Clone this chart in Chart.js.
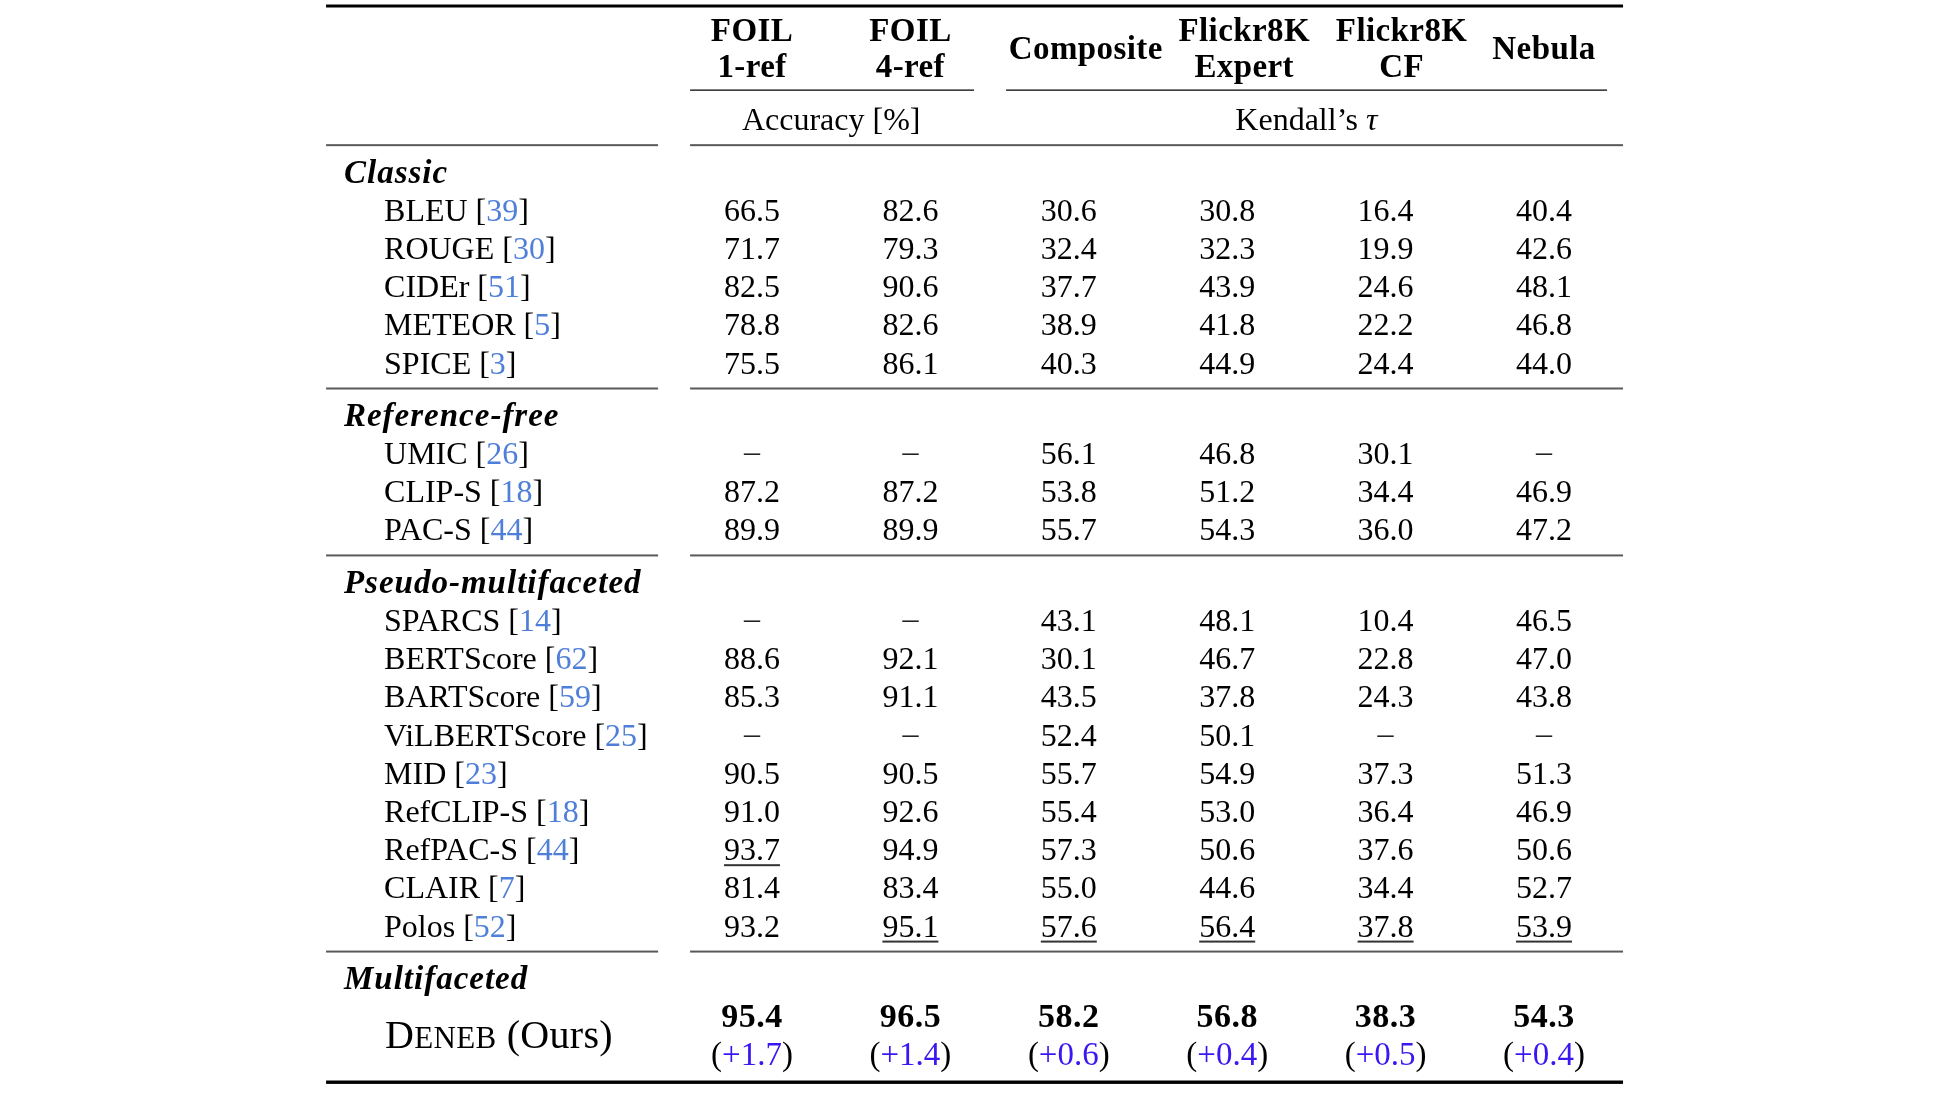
<!DOCTYPE html>
<html>
<head>
<meta charset="utf-8">
<script src="https://cdn.jsdelivr.net/npm/chart.js@4.4.0/dist/chart.umd.min.js"></script>
<style>
	html, body { margin: 0; padding: 0; background: #ffffff; }
	#wrap { width: 1943px; height: 1093px; }
</style>
</head>
<body>
<div id="wrap"><canvas id="scores"></canvas></div>
<script>
//
// Données du tableau.
//
const column_heads = [ [ "FOIL", "1-ref" ], [ "FOIL", "4-ref" ], [ "Composite" ], [ "Flickr8K", "Expert" ], [ "Flickr8K", "CF" ], [ "Nebula" ] ];
const unit_accuracy = "Accuracy [%]";
const unit_kendall = "Kendall’s ";
const unit_tau = "τ";

const group_titles = [ "Classic", "Reference-free", "Pseudo-multifaceted", "Multifaceted" ];

const classic_names = [ "BLEU", "ROUGE", "CIDEr", "METEOR", "SPICE" ];
const classic_refs = [ 39, 30, 51, 5, 3 ];
const free_names = [ "UMIC", "CLIP-S", "PAC-S" ];
const free_refs = [ 26, 18, 44 ];
const pseudo_names = [ "SPARCS", "BERTScore", "BARTScore", "ViLBERTScore", "MID", "RefCLIP-S", "RefPAC-S", "CLAIR", "Polos" ];
const pseudo_refs = [ 14, 62, 59, 25, 23, 18, 44, 7, 52 ];

// Une liste par colonne, dans l'ordre des lignes ci-dessus (null = « – »).
const foil_1ref = [ 66.5, 71.7, 82.5, 78.8, 75.5, null, 87.2, 89.9, null, 88.6, 85.3, null, 90.5, 91.0, 93.7, 81.4, 93.2 ];
const foil_4ref = [ 82.6, 79.3, 90.6, 82.6, 86.1, null, 87.2, 89.9, null, 92.1, 91.1, null, 90.5, 92.6, 94.9, 83.4, 95.1 ];
const composite = [ 30.6, 32.4, 37.7, 38.9, 40.3, 56.1, 53.8, 55.7, 43.1, 30.1, 43.5, 52.4, 55.7, 55.4, 57.3, 55.0, 57.6 ];
const flickr_expert = [ 30.8, 32.3, 43.9, 41.8, 44.9, 46.8, 51.2, 54.3, 48.1, 46.7, 37.8, 50.1, 54.9, 53.0, 50.6, 44.6, 56.4 ];
const flickr_cf = [ 16.4, 19.9, 24.6, 22.2, 24.4, 30.1, 34.4, 36.0, 10.4, 22.8, 24.3, null, 37.3, 36.4, 37.6, 34.4, 37.8 ];
const nebula = [ 40.4, 42.6, 48.1, 46.8, 44.0, null, 46.9, 47.2, 46.5, 47.0, 43.8, null, 51.3, 46.9, 50.6, 52.7, 53.9 ];

const ours_name = "Deneb";
const ours_scores = [ 95.4, 96.5, 58.2, 56.8, 38.3, 54.3 ];
const ours_gains = [ 1.7, 1.4, 0.6, 0.4, 0.5, 0.4 ];

//
// Mise en page : axe Y en « lignes » (38,2 px), axe X en colonnes (158,4 px).
//
const LINE = 38.2;
const COL = 158.4;
const SERIF = "\"Liberation Serif\", \"Times New Roman\", serif";
const BLACK = "#000000";
const CITE = "#4f7fd8";
const GAIN = "#3a16f2";

const column_values = [ foil_1ref, foil_4ref, composite, flickr_expert, flickr_cf, nebula ];
const header_shift = [ 0, 0, 17, 17, 16, 0 ];	// Décalage des titres par rapport aux valeurs (px).

const groups = [
	{ names: classic_names, refs: classic_refs },
	{ names: free_names, refs: free_refs },
	{ names: pseudo_names, refs: pseudo_refs }
];

// Calcul des positions verticales des lignes, titres et filets.
let rows = [];
let titles = [];
let mid_rules = [];
let cursor = 3.80;	// Filet sous les unités.
mid_rules.push( cursor );

groups.forEach( ( group, g ) =>
{
	titles.push( { text: group_titles[ g ], y: cursor + 0.70 } );

	let y = cursor + 1.69;
	group.names.forEach( ( name, i ) =>
	{
		rows.push( { name: name, ref: group.refs[ i ], y: y } );
		y += 1;
	} );

	cursor = y - 1 + 0.68;
	mid_rules.push( cursor );
} );

titles.push( { text: group_titles[ 3 ], y: cursor + 0.70 } );
const ours_y = cursor + 1.67;
const gain_y = ours_y + 1.02;
const bottom_y = gain_y + 0.73;

// Meilleur score hors « Deneb » : souligné dans chaque colonne.
const second_best = column_values.map( values => Math.max( ...values.filter( v => v !== null ) ) );

//
// Jeux de données : une colonne = un jeu de points invisibles placés par les échelles.
//
const datasets = column_values.map( ( values, c ) => (
	{
		label: column_heads[ c ].join( " " ),
		data: rows.map( ( row, i ) => ( { x: c, y: row.y, v: values[ i ] } ) )
			.concat( [ { x: c, y: ours_y, v: ours_scores[ c ], ours: true, gain: ours_gains[ c ] } ] ),
		pointRadius: 0,
		pointHoverRadius: 0
	} ) );

// Libellés des méthodes (colonne de gauche).
datasets.push(
	{
		label: "methods",
		data: rows.map( row => ( { x: -2.323, y: row.y, name: row.name, ref: row.ref } ) )
			.concat( [ { x: -1.597, y: ( ours_y + gain_y ) / 2, name: ours_name, ours: true } ] ),
		pointRadius: 0,
		pointHoverRadius: 0
	} );

// Dessin d'une suite de segments de texte (polices/couleurs différentes).
function draw_runs( ctx, runs, x, y, align, spacing )
{
	ctx.letterSpacing = ( spacing || 0 ) + "px";

	let width = 0;
	runs.forEach( run =>
	{
		ctx.font = run.font;
		width += ctx.measureText( run.text ).width;
	} );

	let start = align === "center" ? x - width / 2 : x;
	ctx.textAlign = "left";
	ctx.textBaseline = "alphabetic";

	runs.forEach( run =>
	{
		ctx.font = run.font;
		ctx.fillStyle = run.color;
		ctx.fillText( run.text, start, y );
		start += ctx.measureText( run.text ).width;
	} );

	ctx.letterSpacing = "0px";
	return { left: align === "center" ? x - width / 2 : x, width: width };
}

function hline( ctx, chart, x0, x1, y, thick, color )
{
	const sx = chart.scales.x;
	const sy = chart.scales.y;
	ctx.fillStyle = color;
	ctx.fillRect( sx.getPixelForValue( x0 ), sy.getPixelForValue( y ) - thick / 2,
		sx.getPixelForValue( x1 ) - sx.getPixelForValue( x0 ), thick );
}

const table_plugin = {
	id: "table_plugin",
	afterDatasetsDraw( chart )
	{
		const ctx = chart.ctx;
		const sx = chart.scales.x;
		const sy = chart.scales.y;
		const regular = "32px " + SERIF;
		const bold = "bold 33px " + SERIF;

		ctx.save();

		// Filets horizontaux.
		hline( ctx, chart, -2.689, 5.499, 6 / LINE, 3, BLACK );
		hline( ctx, chart, -0.391, 1.402, 2.36, 1.6, "#3a3a3a" );
		hline( ctx, chart, 1.604, 5.398, 2.36, 1.6, "#3a3a3a" );
		mid_rules.forEach( y =>
		{
			hline( ctx, chart, -2.689, -0.593, y, 2, "#5a5a5a" );
			hline( ctx, chart, -0.391, 5.499, y, 2, "#5a5a5a" );
		} );
		hline( ctx, chart, -2.689, 5.499, bottom_y, 3.4, BLACK );

		// En-têtes des colonnes.
		column_heads.forEach( ( head, c ) =>
		{
			const x = sx.getPixelForValue( c ) + header_shift[ c ];
			const lines = head.length === 2 ? [ 0.79, 1.72 ] : [ 1.26 ];
			head.forEach( ( text, k ) =>
			{
				draw_runs( ctx, [ { text: text, font: bold, color: BLACK } ], x, sy.getPixelForValue( lines[ k ] ) + 11, "center", 0.4 );
			} );
		} );

		// Unités.
		const unit_base = sy.getPixelForValue( 3.12 ) + 11;
		draw_runs( ctx, [ { text: unit_accuracy, font: regular, color: BLACK } ], sx.getPixelForValue( 0.5 ), unit_base, "center" );
		draw_runs( ctx, [
			{ text: unit_kendall, font: regular, color: BLACK },
			{ text: unit_tau, font: "italic 32px " + SERIF, color: BLACK }
		], sx.getPixelForValue( 3.5 ), unit_base, "center" );

		// Titres des groupes.
		titles.forEach( title =>
		{
			draw_runs( ctx, [ { text: title.text, font: "italic bold 33px " + SERIF, color: BLACK } ],
				sx.getPixelForValue( -2.576 ), sy.getPixelForValue( title.y ) + 11, "left", 1 );
		} );

		// Cellules : lues depuis les points positionnés par Chart.js.
		chart.data.datasets.forEach( ( dataset, d ) =>
		{
			const meta = chart.getDatasetMeta( d );

			meta.data.forEach( ( point, i ) =>
			{
				const raw = dataset.data[ i ];

				if ( dataset.label === "methods" )
				{
					if ( raw.ours )
					{
						draw_runs( ctx, [
							{ text: raw.name.charAt( 0 ), font: "40px " + SERIF, color: BLACK },
							{ text: raw.name.slice( 1 ).toUpperCase(), font: "31px " + SERIF, color: BLACK },
							{ text: " (Ours)", font: "40px " + SERIF, color: BLACK }
						], point.x, point.y + 13, "center", 0.3 );
					}
					else
					{
						draw_runs( ctx, [
							{ text: raw.name + " [", font: regular, color: BLACK },
							{ text: String( raw.ref ), font: regular, color: CITE },
							{ text: "]", font: regular, color: BLACK }
						], point.x, point.y + 11, "left" );
					}
					return;
				}

				if ( raw.ours )
				{
					draw_runs( ctx, [ { text: raw.v.toFixed( 1 ), font: "bold 34px " + SERIF, color: BLACK } ], point.x, point.y + 12, "center", 0.5 );
					draw_runs( ctx, [
						{ text: "(", font: "33px " + SERIF, color: BLACK },
						{ text: "+" + raw.gain.toFixed( 1 ), font: "33px " + SERIF, color: GAIN },
						{ text: ")", font: "33px " + SERIF, color: BLACK }
					], point.x, sy.getPixelForValue( gain_y ) + 11, "center" );
					return;
				}

				if ( raw.v === null )
				{
					draw_runs( ctx, [ { text: "–", font: regular, color: "#222222" } ], point.x, point.y + 9, "center" );
					return;
				}

				const box = draw_runs( ctx, [ { text: raw.v.toFixed( 1 ), font: regular, color: BLACK } ], point.x, point.y + 11, "center" );

				if ( raw.v === second_best[ d ] )
				{
					ctx.fillStyle = "#333333";
					ctx.fillRect( box.left, point.y + 15, box.width, 2 );
				}
			} );
		} );

		ctx.restore();
	}
};

new Chart( document.getElementById( "scores" ),
	{
		type: "scatter",
		data: { datasets: datasets },
		options: {
			responsive: true,
			maintainAspectRatio: false,
			animation: false,
			events: [],
			layout: { padding: 0 },
			plugins: {
				legend: { display: false },
				tooltip: { enabled: false }
			},
			scales: {
				x: { type: "linear", min: -752 / COL, max: ( 1943 - 752 ) / COL, display: false },
				y: { type: "linear", min: 0, max: 1093 / LINE, reverse: true, display: false }
			}
		},
		plugins: [ table_plugin ]
	} );
</script>
</body>
</html>
